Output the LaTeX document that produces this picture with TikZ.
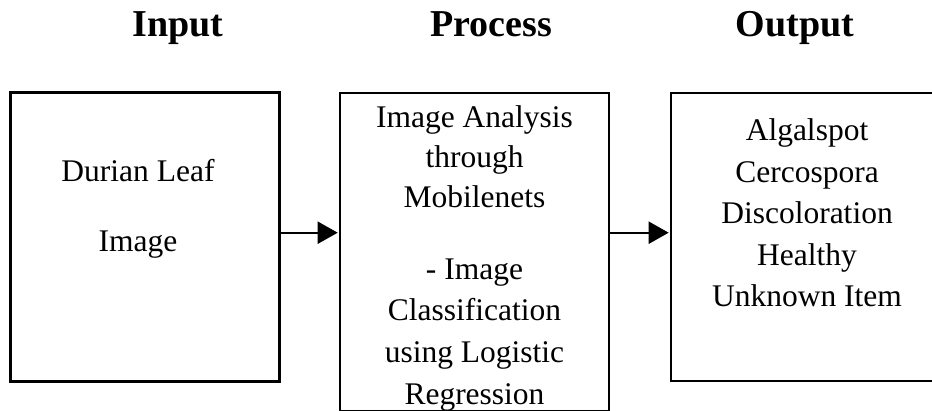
\documentclass[tikz,border=0pt]{standalone}
\usepackage{fontspec}
\setmainfont{Liberation Serif}
\usetikzlibrary{arrows.meta}
\begin{document}
\begin{tikzpicture}[x=1pt,y=-1pt,
  box/.style={draw=black, line width=2.6pt, inner sep=0pt},
  body/.style={anchor=base, inner sep=0pt, font=\fontsize{31.5}{36}\selectfont},
  head/.style={anchor=base, inner sep=0pt, font=\fontsize{38}{44}\selectfont\bfseries},
  arr/.style={line width=2pt, -{Triangle[length=20pt,width=22pt]}, shorten >=1pt}]
\useasboundingbox (0,0) rectangle (932,411);
% boxes
\node[box, minimum width=268.6pt, minimum height=289pt] (in) at (145,237.2) {};
\node[box, minimum width=269pt, minimum height=318pt] (proc) at (474.5,252) {};
\node[box, minimum width=263pt, minimum height=288pt] (out) at (802.5,237) {};
% headers
\node[head] (hin) at (178,37) {Input};
\node[head] (hproc) at (491,37) {Process};
\node[head] (hout) at (795,37) {Output};
% input text
\node[body] (i1) at (138,182) {Durian Leaf};
\node[body] (i2) at (138,252) {Image};
% process text
\node[body] (p1) at (474.5,128) {Image Analysis};
\node[body] (p2) at (474.5,168) {through};
\node[body] (p3) at (474.5,208) {Mobilenets};
\node[body] (p4) at (474.5,280) {- Image};
\node[body] (p5) at (474.5,321) {Classification};
\node[body] (p6) at (474.5,363) {using Logistic};
\node[body] (p7) at (474.5,405) {Regression};
% output text
\node[body] (o1) at (807,141) {Algalspot};
\node[body] (o2) at (807,182.5) {Cercospora};
\node[body] (o3) at (807,224) {Discoloration};
\node[body] (o4) at (807,265.5) {Healthy};
\node[body] (o5) at (807,307) {Unknown Item};
% connectors
\coordinate (a1) at ([yshift=4.5pt]in.east);
\coordinate (a2) at (a1 -| proc.east);
\draw[arr] (a1) -- (a1 -| proc.west);
\draw[arr] (a2) -- (a2 -| out.west);
\end{tikzpicture}
\end{document}
